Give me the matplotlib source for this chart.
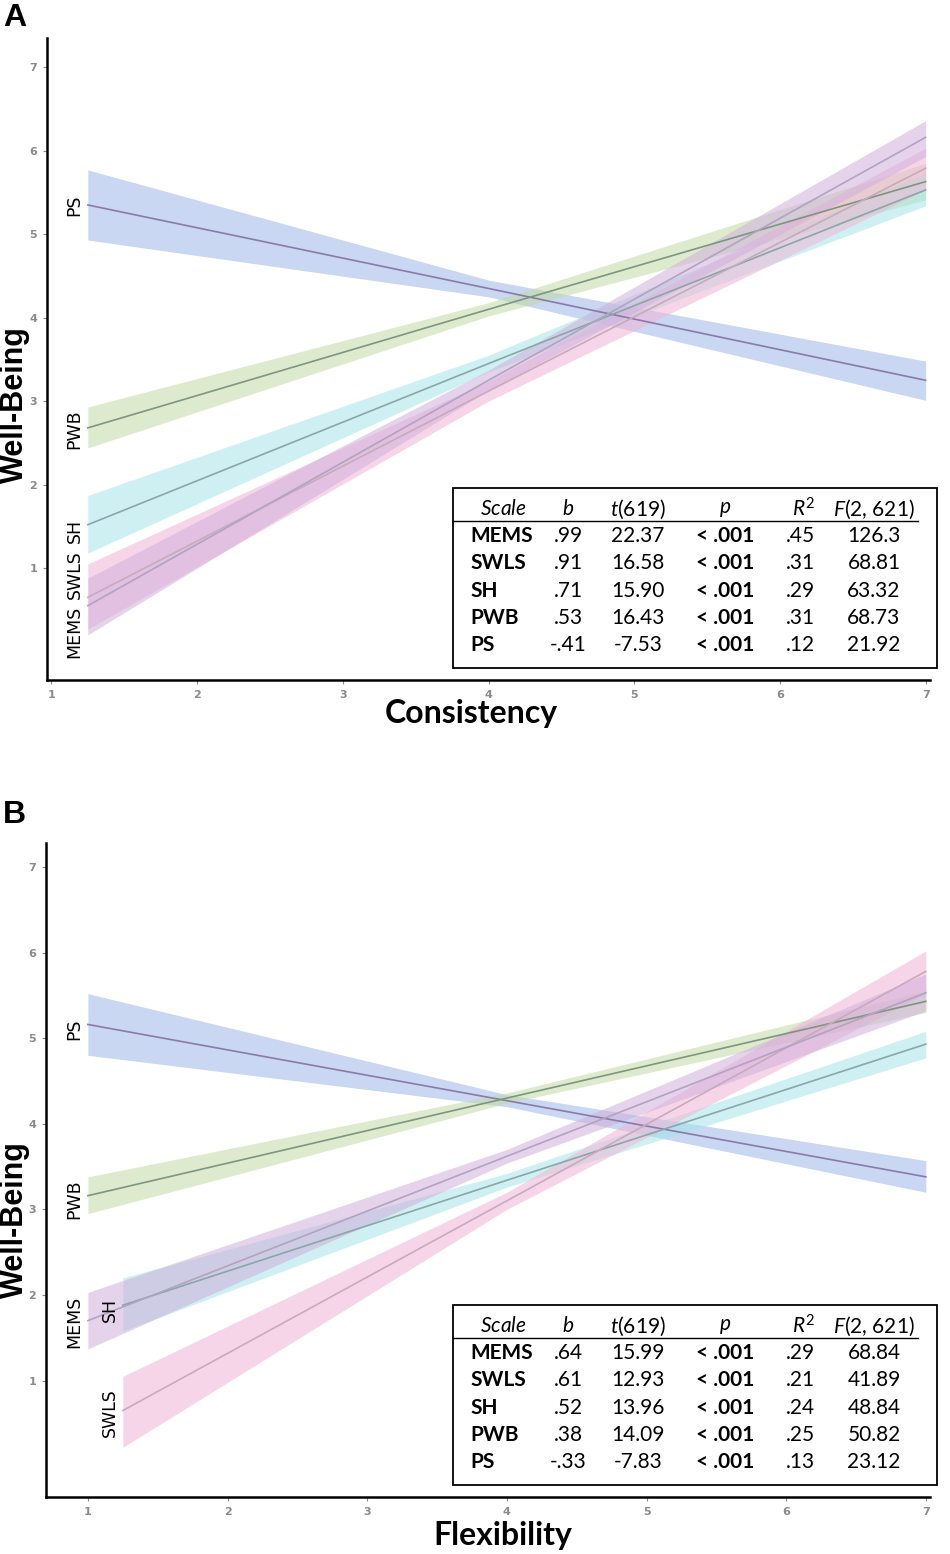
"""Two-panel well-being regression plot (Consistency / Flexibility) with stats tables."""
import matplotlib
matplotlib.use("Agg")
import matplotlib.pyplot as plt
from matplotlib.patches import Rectangle
from matplotlib.lines import Line2D

plt.rcParams["font.family"] = ["Lato", "DejaVu Sans"]
plt.rcParams["mathtext.fontset"] = "custom"
plt.rcParams["mathtext.it"] = "Lato:italic"
plt.rcParams["mathtext.rm"] = "Lato"

SCALES = ["MEMS", "SWLS", "SH", "PWB", "PS"]

# ---- panel A: Consistency (x points: start, middle, end) ----
A_x = {"MEMS": [1.25, 4.0, 7.0], "SWLS": [1.25, 4.0, 7.0], "SH": [1.25, 4.0, 7.0],
       "PWB": [1.25, 4.0, 7.0], "PS": [1.25, 4.0, 7.0]}
A_fit = {"MEMS": [0.55, 3.25, 6.16], "SWLS": [0.65, 3.12, 5.79], "SH": [1.52, 3.45, 5.53],
         "PWB": [2.68, 4.10, 5.63], "PS": [5.35, 4.35, 3.25]}
A_lo = {"MEMS": [0.20, 3.13, 5.93], "SWLS": [0.27, 3.00, 5.53], "SH": [1.18, 3.35, 5.34],
        "PWB": [2.44, 4.02, 5.41], "PS": [4.93, 4.25, 3.01]}
A_hi = {"MEMS": [0.88, 3.37, 6.36], "SWLS": [1.05, 3.24, 6.03], "SH": [1.87, 3.55, 5.73],
        "PWB": [2.93, 4.18, 5.85], "PS": [5.77, 4.45, 3.48]}

# ---- panel B: Flexibility ----
B_x = {"MEMS": [1.0, 4.0, 7.0], "SWLS": [1.25, 4.0, 7.0], "SH": [1.25, 4.0, 7.0],
       "PWB": [1.0, 4.0, 7.0], "PS": [1.0, 4.0, 7.0]}
B_fit = {"MEMS": [1.70, 3.62, 5.53], "SWLS": [0.65, 3.10, 5.78], "SH": [1.88, 3.34, 4.93],
         "PWB": [3.16, 4.30, 5.43], "PS": [5.16, 4.27, 3.38]}
B_lo = {"MEMS": [1.37, 3.54, 5.32], "SWLS": [0.22, 3.00, 5.52], "SH": [1.58, 3.26, 4.77],
        "PWB": [2.95, 4.24, 5.30], "PS": [4.80, 4.20, 3.20]}
B_hi = {"MEMS": [2.03, 3.70, 5.75], "SWLS": [1.05, 3.20, 6.02], "SH": [2.20, 3.42, 5.08],
        "PWB": [3.38, 4.36, 5.55], "PS": [5.52, 4.34, 3.57]}

# ---- tables ----
A_b = [".99", ".91", ".71", ".53", "-.41"]
A_t = ["22.37", "16.58", "15.90", "16.43", "-7.53"]
A_r2 = [".45", ".31", ".29", ".31", ".12"]
A_F = ["126.3", "68.81", "63.32", "68.73", "21.92"]
B_b = [".64", ".61", ".52", ".38", "-.33"]
B_t = ["15.99", "12.93", "13.96", "14.09", "-7.83"]
B_r2 = [".29", ".21", ".24", ".25", ".13"]
B_F = ["68.84", "41.89", "48.84", "50.82", "23.12"]
P_VAL = "< .001"

FILL = {"PS": "#9db6e8", "PWB": "#c2daa5", "SH": "#a6e5e8", "SWLS": "#f2b4d6", "MEMS": "#cfb0dc"}
LINE = {"PS": "#8a7aa8", "PWB": "#7d9680", "SH": "#8aa6a8", "SWLS": "#c8aabd", "MEMS": "#b3a2c0"}

W, H = 950, 1554
fig = plt.figure(figsize=(W / 100, H / 100), dpi=100)


def fxy(x, y):
    return x / W, 1 - y / H


def panel(rect, xs, fit, lo, hi, xlim, ylim, labels):
    ax = fig.add_axes(rect)
    for s in ["PS", "PWB", "SH", "SWLS", "MEMS"]:
        ax.fill_between(xs[s], lo[s], hi[s], color=FILL[s], alpha=0.55, lw=0)
        ax.plot(xs[s], fit[s], color=LINE[s], lw=1.2)
    for s, (lx, ly) in labels.items():
        ax.text(lx, ly, s, rotation=90, ha="right", va="center", fontsize=12.5,
                family=["Liberation Sans Narrow", "DejaVu Sans"])
    ax.set_xlim(*xlim)
    ax.set_ylim(*ylim)
    ax.set_xticks(range(1, 8))
    ax.set_yticks(range(1, 8))
    ax.tick_params(labelsize=8, colors="#8a8a8a", length=3, width=0.8, pad=4)
    for lab in ax.get_xticklabels() + ax.get_yticklabels():
        lab.set_fontweight("bold")
        lab.set_family(["DejaVu Sans"])
    for sp in ["top", "right"]:
        ax.spines[sp].set_visible(False)
    for sp in ["left", "bottom"]:
        ax.spines[sp].set_linewidth(1.8)
    return ax


def table(top, b, t, r2, F, fs=15):
    box_l, box_r = 453, 937
    fig.patches.append(Rectangle(fxy(box_l, top + 180), (box_r - box_l) / W, 180 / H,
                                 transform=fig.transFigure, fill=False, ec="black", lw=1.3))
    hy = top + 21
    cols = [(503, r"$Scale$"), (568, r"$b$"), (638, r"$t$(619)"),
            (725, r"$p$"), (804, r"$R^2$"), (874, r"$F$(2, 621)")]
    for x, txt in cols:
        fig.text(*fxy(x, hy), txt, ha="center", va="center", fontsize=fs)
    fig.lines.append(Line2D([box_l / W, 918 / W], [1 - (top + 33) / H] * 2,
                            transform=fig.transFigure, color="black", lw=1.0))
    for i, s in enumerate(SCALES):
        y = top + 48 + i * 27.3
        fig.text(*fxy(470, y), s, ha="left", va="center", fontsize=fs, fontweight="bold")
        fig.text(*fxy(568, y), b[i], ha="center", va="center", fontsize=fs)
        fig.text(*fxy(638, y), t[i], ha="center", va="center", fontsize=fs)
        fig.text(*fxy(725, y), P_VAL, ha="center", va="center", fontsize=fs, fontweight="bold")
        fig.text(*fxy(800, y), r2[i], ha="center", va="center", fontsize=fs)
        fig.text(*fxy(874, y), F[i], ha="center", va="center", fontsize=fs)


axA = panel([47 / W, 1 - 680 / H, 883 / W, 642 / H], A_x, A_fit, A_lo, A_hi,
            (0.97, 7.03), (-0.34, 7.35),
            {"PS": (1.22, 5.35), "PWB": (1.22, 2.66), "SH": (1.22, 1.45),
             "SWLS": (1.22, 0.92), "MEMS": (1.22, 0.24)})
axB = panel([46 / W, 1 - 1497 / H, 884 / W, 654 / H], B_x, B_fit, B_lo, B_hi,
            (0.70, 7.03), (-0.36, 7.28),
            {"PS": (0.97, 5.11), "PWB": (0.97, 3.12), "MEMS": (0.97, 1.68),
             "SH": (1.22, 1.83), "SWLS": (1.22, 0.62)})

table(488, A_b, A_t, A_r2, A_F)
table(1305, B_b, B_t, B_r2, B_F)

# axis titles
for yc in (405, 1220):
    fig.text(*fxy(15, yc), "Well-Being", rotation=90, ha="center", va="center",
             fontsize=22, fontweight="bold", family=["Liberation Sans", "DejaVu Sans"])
fig.text(*fxy(471, 713), "Consistency", ha="center", va="center", fontsize=23, fontweight="bold")
fig.text(*fxy(503, 1535), "Flexibility", ha="center", va="center", fontsize=23, fontweight="bold")

fig.text(*fxy(3, 18), "A", fontsize=23, fontweight="bold", va="center", ha="left",
         family=["Liberation Sans", "DejaVu Sans"])
fig.text(*fxy(3, 815), "B", fontsize=23, fontweight="bold", va="center", ha="left",
         family=["Liberation Sans", "DejaVu Sans"])

fig.savefig("out.png", dpi=100)
